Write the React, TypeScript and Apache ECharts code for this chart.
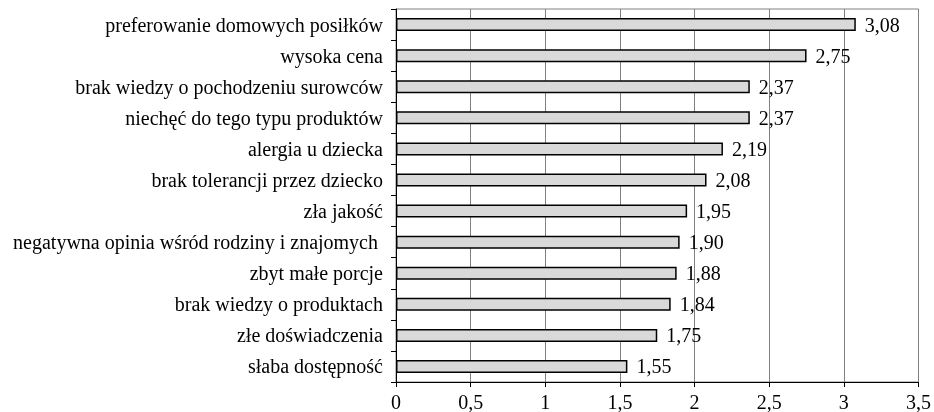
import React, { useEffect, useRef } from "react";
import * as echarts from "echarts";

const categories = [
  "preferowanie domowych posiłków",
  "wysoka cena",
  "brak wiedzy o pochodzeniu surowców",
  "niechęć do tego typu produktów",
  "alergia u dziecka",
  "brak tolerancji przez dziecko",
  "zła jakość",
  "negatywna opinia wśród rodziny i znajomych ",
  "zbyt małe porcje",
  "brak wiedzy o produktach",
  "złe doświadczenia",
  "słaba dostępność",
];
const values = [3.08, 2.75, 2.37, 2.37, 2.19, 2.08, 1.95, 1.9, 1.88, 1.84, 1.75, 1.55];

const FONT = "Liberation Serif";
const fmt = (v: number, d: number) => v.toFixed(d).replace(".", ",");

export default function App() {
  const ref = useRef<HTMLDivElement>(null);
  useEffect(() => {
    if (!ref.current) return;
    const chart = echarts.init(ref.current, null, { renderer: "svg" });
    chart.setOption({
      animation: false,
      textStyle: { fontFamily: FONT },
      grid: {
        left: 396,
        right: 12,
        top: 9,
        bottom: 30,
        show: true,
        borderColor: "#808080",
        borderWidth: 1,
        containLabel: false,
      },
      xAxis: {
        type: "value",
        min: 0,
        max: 3.5,
        interval: 0.5,
        axisLine: { show: true, lineStyle: { color: "#000", width: 1 } },
        axisTick: { show: true, length: 5, lineStyle: { color: "#000" } },
        axisLabel: {
          color: "#000",
          fontFamily: FONT,
          fontSize: 20,
          margin: 10,
          formatter: (v: number) => (v === Math.round(v) ? String(v) : fmt(v, 1)),
        },
        splitLine: { show: true, lineStyle: { color: "#808080", width: 1 } },
      },
      yAxis: {
        type: "category",
        data: categories,
        inverse: true,
        axisLine: { show: true, lineStyle: { color: "#000", width: 1 } },
        axisTick: { show: true, length: 5, alignWithLabel: false, lineStyle: { color: "#000" } },
        axisLabel: {
          color: "#000",
          fontFamily: FONT,
          fontSize: 20,
          margin: 13,
        },
        splitLine: { show: false },
      },
      series: [
        {
          type: "bar",
          data: values,
          barWidth: 13,
          itemStyle: { color: "#d9d9d9", borderColor: "#000", borderWidth: 1.5 },
          label: {
            show: true,
            position: "right",
            distance: 9,
            color: "#000",
            fontFamily: FONT,
            fontSize: 20,
            formatter: (p: any) => fmt(p.value, 2),
          },
        },
      ],
    });
    return () => chart.dispose();
  }, []);
  return (
    <div
      ref={ref}
      style={{ position: "fixed", left: 0, top: 0, width: 934, height: 412 }}
    />
  );
}
